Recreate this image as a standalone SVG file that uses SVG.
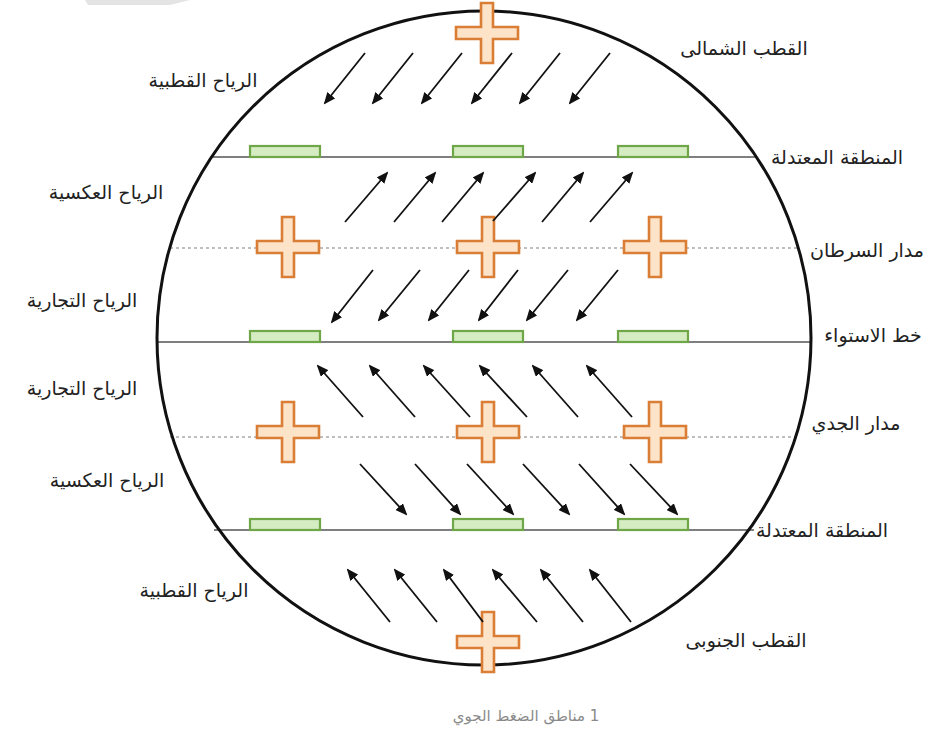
<svg xmlns="http://www.w3.org/2000/svg" width="938" height="733" viewBox="0 0 938 733">
<style>
.lbl{font-family:"DejaVu Sans","Noto Sans",sans-serif;font-size:19px;fill:#222;text-anchor:middle;direction:rtl}
.cap{font-family:"DejaVu Sans","Noto Sans",sans-serif;font-size:15px;fill:#8a8a8a;text-anchor:middle;direction:rtl}
.lat{stroke:#555;stroke-width:1.6;fill:none}
.trop{stroke:#aaa;stroke-width:1.3;stroke-dasharray:3 3;fill:none}
.low{fill:#d5ecc3;stroke:#6fa648;stroke-width:2.2}
.high{fill:#fde3c8;stroke:#d97e34;stroke-width:2.6}
.arr{stroke:#111;stroke-width:1.8;fill:none;marker-end:url(#ah)}
</style>
<defs>
<marker id="ah" markerWidth="12" markerHeight="10" refX="10" refY="5" orient="auto" markerUnits="userSpaceOnUse">
<path d="M0,0 L12,5 L0,10 Z" fill="#111"/>
</marker>
<path id="cross" d="M-6,-30 H6 V-6 H31 V6 H6 V30 H-6 V6 H-31 V-6 H-6 Z"/>
</defs>
<rect width="938" height="733" fill="#fff"/>
<path d="M85,0 H190 L170,5 H88 Z" fill="#e4e4e4"/>

<g id="latitudes">
<line class="lat" x1="212" y1="157" x2="756" y2="157"/>
<line class="trop" x1="170" y1="248" x2="800" y2="248"/>
<line class="lat" x1="157" y1="342" x2="811" y2="342"/>
<line class="trop" x1="170" y1="437" x2="800" y2="437"/>
<line class="lat" x1="214" y1="530" x2="754" y2="530"/>
</g>

<g id="earth">
<circle cx="484" cy="338" r="327" fill="none" stroke="#111" stroke-width="3"/>
</g>

<g id="low-pressure">
<rect class="low" x="250" y="146" width="70" height="11"/>
<rect class="low" x="453" y="146" width="70" height="11"/>
<rect class="low" x="618" y="146" width="70" height="11"/>
<rect class="low" x="250" y="331" width="70" height="11"/>
<rect class="low" x="453" y="331" width="70" height="11"/>
<rect class="low" x="618" y="331" width="70" height="11"/>
<rect class="low" x="250" y="519" width="70" height="11"/>
<rect class="low" x="453" y="519" width="70" height="11"/>
<rect class="low" x="618" y="519" width="70" height="11"/>
</g>

<g id="high-pressure">
<use href="#cross" class="high" x="487" y="33"/>
<use href="#cross" class="high" x="288" y="247"/>
<use href="#cross" class="high" x="488" y="247"/>
<use href="#cross" class="high" x="655" y="247"/>
<use href="#cross" class="high" x="288" y="432"/>
<use href="#cross" class="high" x="488" y="432"/>
<use href="#cross" class="high" x="655" y="432"/>
<use href="#cross" class="high" x="488" y="642"/>
</g>

<g id="connectors">
<line class="arr" x1="365" y1="53" x2="325" y2="103"/>
<line class="arr" x1="413" y1="53" x2="373" y2="103"/>
<line class="arr" x1="462" y1="53" x2="422" y2="103"/>
<line class="arr" x1="512" y1="53" x2="472" y2="103"/>
<line class="arr" x1="560" y1="53" x2="520" y2="103"/>
<line class="arr" x1="610" y1="53" x2="570" y2="103"/>

<line class="arr" x1="345" y1="222" x2="387" y2="173"/>
<line class="arr" x1="394" y1="222" x2="435" y2="173"/>
<line class="arr" x1="442" y1="222" x2="483" y2="173"/>
<line class="arr" x1="493" y1="221" x2="535" y2="173"/>
<line class="arr" x1="542" y1="222" x2="583" y2="173"/>
<line class="arr" x1="590" y1="222" x2="632" y2="173"/>

<line class="arr" x1="373" y1="270" x2="332" y2="322"/>
<line class="arr" x1="420" y1="270" x2="379" y2="320"/>
<line class="arr" x1="469" y1="270" x2="429" y2="320"/>
<line class="arr" x1="518" y1="270" x2="479" y2="320"/>
<line class="arr" x1="568" y1="270" x2="527" y2="320"/>
<line class="arr" x1="618" y1="270" x2="577" y2="320"/>

<line class="arr" x1="363" y1="417" x2="318" y2="366"/>
<line class="arr" x1="415" y1="417" x2="370" y2="366"/>
<line class="arr" x1="470" y1="417" x2="424" y2="366"/>
<line class="arr" x1="527" y1="417" x2="480" y2="366"/>
<line class="arr" x1="578" y1="417" x2="533" y2="366"/>
<line class="arr" x1="632" y1="417" x2="587" y2="366"/>

<line class="arr" x1="360" y1="464" x2="406" y2="514"/>
<line class="arr" x1="415" y1="464" x2="460" y2="514"/>
<line class="arr" x1="467" y1="464" x2="513" y2="514"/>
<line class="arr" x1="523" y1="464" x2="569" y2="514"/>
<line class="arr" x1="579" y1="464" x2="624" y2="514"/>
<line class="arr" x1="630" y1="464" x2="677" y2="514"/>

<line class="arr" x1="390" y1="622" x2="348" y2="570"/>
<line class="arr" x1="437" y1="622" x2="395" y2="570"/>
<line class="arr" x1="483" y1="622" x2="444" y2="570"/>
<line class="arr" x1="537" y1="622" x2="493" y2="570"/>
<line class="arr" x1="583" y1="622" x2="541" y2="570"/>
<line class="arr" x1="631" y1="622" x2="590" y2="570"/>
</g>

<g id="labels-right">
<text class="lbl" x="744" y="55">القطب الشمالى</text>
<text class="lbl" x="837" y="164">المنطقة المعتدلة</text>
<text class="lbl" x="867" y="257">مدار السرطان</text>
<text class="lbl" x="873" y="342">خط الاستواء</text>
<text class="lbl" x="856" y="430">مدار الجدي</text>
<text class="lbl" x="822" y="537">المنطقة المعتدلة</text>
<text class="lbl" x="746" y="647">القطب الجنوبى</text>
</g>

<g id="labels-left">
<text class="lbl" x="203" y="87">الرياح القطبية</text>
<text class="lbl" x="106" y="199">الرياح العكسية</text>
<text class="lbl" x="82" y="307">الرياح التجارية</text>
<text class="lbl" x="82" y="395">الرياح التجارية</text>
<text class="lbl" x="107" y="487">الرياح العكسية</text>
<text class="lbl" x="194" y="597">الرياح القطبية</text>
</g>

<g id="caption">
<text class="cap" x="526" y="721">1 مناطق الضغط الجوي</text>
</g>
</svg>
